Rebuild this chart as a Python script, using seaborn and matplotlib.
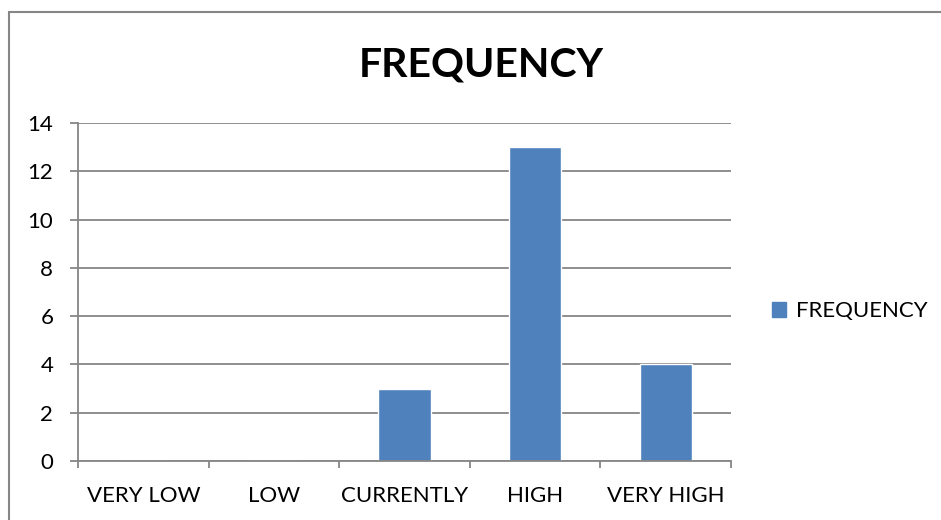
import matplotlib
matplotlib.use('Agg')
import matplotlib.pyplot as plt
import matplotlib.patches as mpatches
from matplotlib.ticker import FixedLocator
import seaborn as sns
import pandas as pd

levels = ['VERY LOW', 'LOW', 'CURRENTLY', 'HIGH', 'VERY HIGH']
frequency = [0, 0, 3, 13, 4]
y_ticks = [0, 2, 4, 6, 8, 10, 12, 14]

bar_color = '#4F81BD'
line_gray = '#868686'

sns.set_style('white')
plt.rcParams['font.family'] = ['Lato', 'DejaVu Sans']
plt.rcParams['text.color'] = 'black'

df = pd.DataFrame({'level': levels, 'FREQUENCY': frequency})

fig = plt.figure(figsize=(9.41, 5.20), dpi=100)
ax = fig.add_axes([78 / 941, 1 - 461 / 520, (731 - 78) / 941, (461 - 123) / 520])

sns.barplot(data=df, x='level', y='FREQUENCY', color=bar_color, width=0.4,
            saturation=1, ax=ax)

ax.set_xlim(-0.5, len(levels) - 0.5)
ax.set_ylim(0, 14)
ax.set_yticks(y_ticks)
ax.set_xlabel('')
ax.set_ylabel('')

# excel-ish axes: gray grid, ticks between categories
ax.yaxis.grid(True, color=line_gray, lw=1.3)
ax.set_axisbelow(True)
for s in ['top', 'right']:
    ax.spines[s].set_visible(False)
for s in ['left', 'bottom']:
    ax.spines[s].set_color(line_gray)
    ax.spines[s].set_linewidth(1.3)

ax.tick_params(axis='y', length=5.8, width=1.3, color=line_gray, pad=12,
               labelsize=16, labelcolor='black', left=True)
ax.tick_params(axis='x', which='major', length=0, pad=18, labelsize=16,
               labelcolor='black')
ax.xaxis.set_minor_locator(FixedLocator([i - 0.5 for i in range(len(levels) + 1)]))
ax.tick_params(axis='x', which='minor', length=5, width=1.3, color=line_gray,
               bottom=True)

fig.text(481 / 941, 1 - 77 / 520, 'FREQUENCY', ha='center', va='baseline',
         fontsize=29.5, fontweight='bold', color='black')

handle = mpatches.Patch(color=bar_color, label='FREQUENCY')
fig.legend(handles=[handle], loc='center left',
           bbox_to_anchor=(772 / 941, 1 - 311 / 520), frameon=False,
           fontsize=16, handlelength=0.65, handleheight=0.65,
           handletextpad=0.45, borderpad=0, borderaxespad=0)

# chart border
fig.patches.append(mpatches.Rectangle((9 / 941, -0.1), 1.1, 1 - 12 / 520 + 0.1,
                                      transform=fig.transFigure, fill=False,
                                      edgecolor=line_gray, lw=1.5))

fig.savefig('out.png', dpi=100)
